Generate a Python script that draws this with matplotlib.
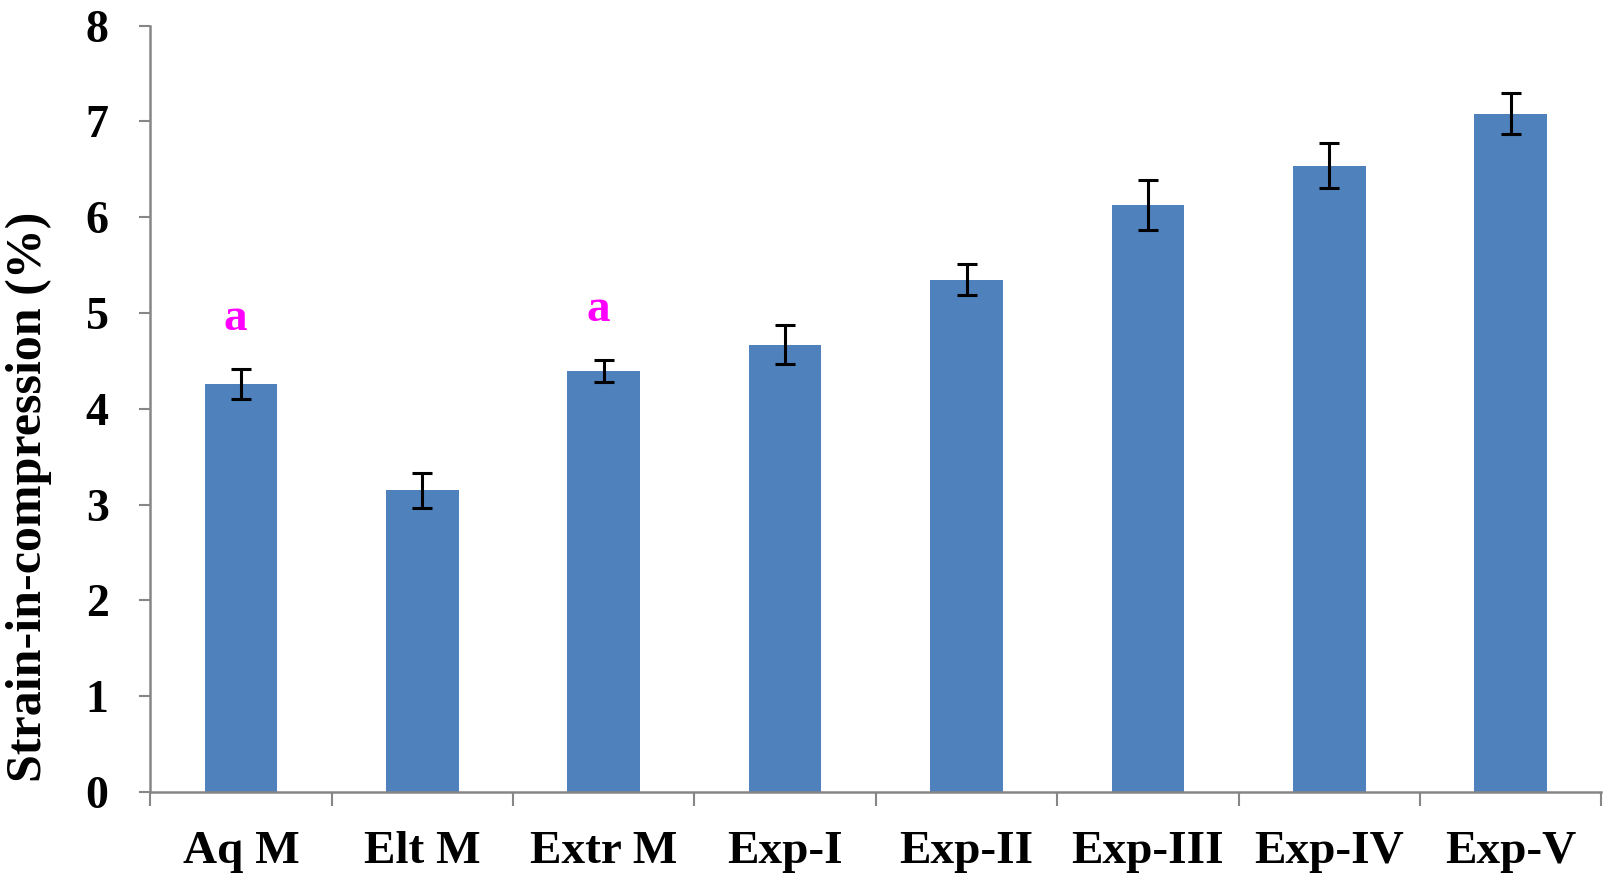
import numpy as np
import matplotlib.pyplot as plt

# Data
groups = ['Aq M', 'Elt M', 'Extr M', 'Exp-I', 'Exp-II', 'Exp-III', 'Exp-IV', 'Exp-V']
strain = [4.26, 3.15, 4.40, 4.67, 5.35, 6.13, 6.54, 7.08]
err = [0.155, 0.18, 0.115, 0.205, 0.16, 0.26, 0.235, 0.215]
letters = ['a', '', 'a', '', '', '', '', '']

plt.rcParams['font.family'] = ['Liberation Serif', 'DejaVu Serif']
plt.rcParams['font.weight'] = 'bold'

fig = plt.figure(figsize=(16.16, 8.84), dpi=100)
ax = fig.add_axes([0.093, 0.104, 0.898, 0.867])

x = np.arange(len(groups))
ax.bar(x, strain, width=0.4, color='#4F81BD', zorder=2)
ax.errorbar(x, strain, yerr=err, fmt='none', ecolor='black',
            elinewidth=2.2, capsize=7, capthick=2.2, zorder=3)

# significance letters above the error bars
for xi, v, e, t in zip(x, strain, err, letters):
    if t:
        ax.text(xi - 0.03, v + e + 0.52, t, color='#FF00FF', fontsize=34,
                fontweight='bold', ha='center', va='center')

ax.set_xlim(-0.5, len(groups) - 0.5)
ax.set_ylim(0, 8)
ax.set_yticks(range(0, 9))

# x ticks sit between categories, labels sit under the bars
ax.set_xticks(np.arange(-0.5, len(groups), 1.0))
ax.set_xticklabels([])
ax.set_xticks(x, minor=True)
ax.set_xticklabels(groups, minor=True, fontsize=34, fontweight='bold')
ax.tick_params(axis='x', which='minor', length=0, pad=28)
ax.tick_params(axis='x', which='major', length=10, width=1.5, color='#868686')
ax.tick_params(axis='y', length=8, width=1.5, color='#868686', pad=22,
               labelsize=33)

ax.set_ylabel('Strain-in-compression (%)', fontsize=36, fontweight='bold')
ax.yaxis.set_label_coords(-0.068, 0.385)

for side in ['top', 'right']:
    ax.spines[side].set_visible(False)
for side in ['left', 'bottom']:
    ax.spines[side].set_color('#868686')
    ax.spines[side].set_linewidth(1.8)

fig.savefig('out.png', dpi=100)
